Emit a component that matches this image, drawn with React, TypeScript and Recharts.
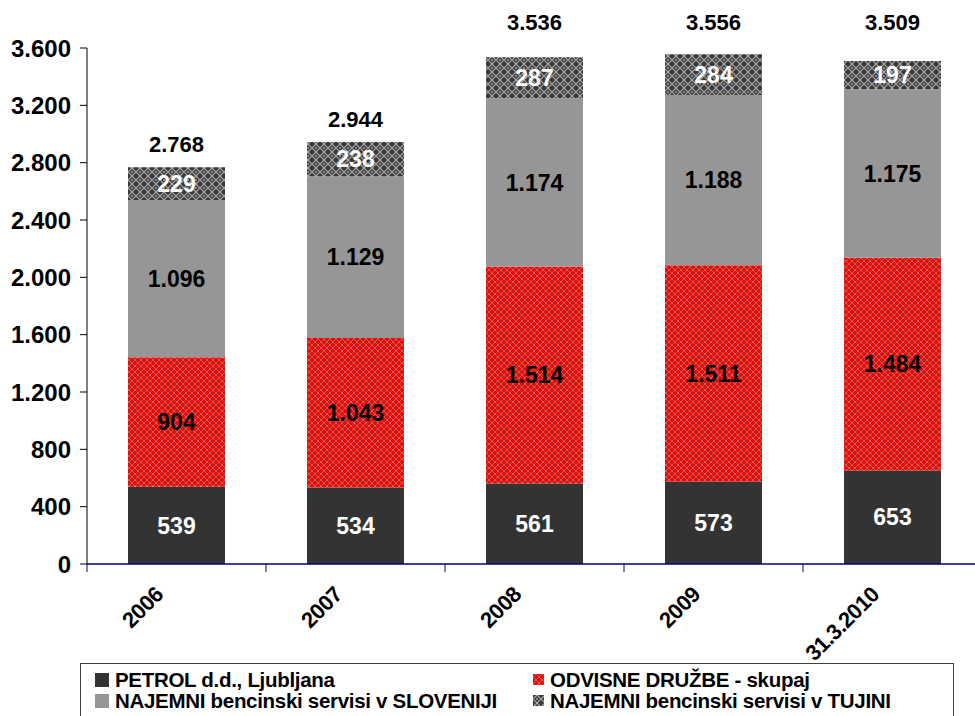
import React from "react";
import { Bar, BarChart, LabelList, XAxis, YAxis } from "recharts";

// ============================================
// Data
// ============================================

const CATEGORIES = ["2006", "2007", "2008", "2009", "31.3.2010"];
const PETROL = [539, 534, 561, 573, 653];
const ODVISNE = [904, 1043, 1514, 1511, 1484];
const NAJEMNI_SLO = [1096, 1129, 1174, 1188, 1175];
const NAJEMNI_TUJINA = [229, 238, 287, 284, 197];
const Y_TICKS = [0, 400, 800, 1200, 1600, 2000, 2400, 2800, 3200, 3600];

const LEGEND_LABELS = [
  "PETROL d.d., Ljubljana",
  "ODVISNE DRUŽBE - skupaj",
  "NAJEMNI bencinski servisi v SLOVENIJI",
  "NAJEMNI bencinski servisi v TUJINI",
];

const data = CATEGORIES.map((name, i) => ({
  name,
  petrol: PETROL[i],
  odvisne: ODVISNE[i],
  slo: NAJEMNI_SLO[i],
  tujina: NAJEMNI_TUJINA[i],
  total: PETROL[i] + ODVISNE[i] + NAJEMNI_SLO[i] + NAJEMNI_TUJINA[i],
}));

// ============================================
// Styles
// ============================================

const FONT = "Arial, 'Liberation Sans', sans-serif";
const DARK = "#333333";
const GRAY = "#969696";
const NAVY = "#000080";

function fmt(v: number | string): string {
  return String(v).replace(/\B(?=(\d{3})+(?!\d))/g, ".");
}

function PatternDefs({ prefix }: { prefix: string }) {
  return (
    <defs>
      <pattern id={`${prefix}-red`} width={6} height={6} patternUnits="userSpaceOnUse">
        <rect width={6} height={6} fill="#ff0000" />
        <path d="M0,3 L3,0 L6,3 L3,6 Z" fill="none" stroke="#a08080" strokeWidth={0.8} />
      </pattern>
      <pattern id={`${prefix}-check`} width={8} height={8} patternUnits="userSpaceOnUse">
        <rect width={8} height={8} fill="#383838" />
        <path d="M0,4 L4,0 L8,4 L4,8 Z" fill="none" stroke="#a8a8a8" strokeWidth={1.2} />
        <rect x={3} y={3} width={2} height={2} fill="#8c8c8c" />
      </pattern>
    </defs>
  );
}

// ============================================
// Custom tick: rotated label + tick marks on category boundaries
// ============================================

function RotatedTick({ x, y, payload, index, visibleTicksCount }: any) {
  const half = payload.offset ?? 0;
  const lx = x - 12;
  const ly = y + 32;
  const isLast = index === visibleTicksCount - 1;
  return (
    <g>
      <line x1={x - half} x2={x - half} y1={y} y2={y + 8} stroke={NAVY} />
      {isLast && <line x1={x + half} x2={x + half} y1={y} y2={y + 8} stroke={NAVY} />}
      <text
        x={lx}
        y={ly}
        transform={`rotate(-45 ${lx} ${ly})`}
        textAnchor="end"
        fontFamily={FONT}
        fontWeight="bold"
        fontSize={22}
        letterSpacing={-0.5}
        fill="#000"
      >
        {payload.value}
      </text>
    </g>
  );
}

// ============================================
// Total label above each stack
// ============================================

function TotalLabel(props: any) {
  const vb = props.viewBox ?? props;
  const cx = vb.x + vb.width / 2;
  const above = vb.y - 15;
  // labels that would crowd the top of the plot sit in the top margin row
  const ly = above < 70 ? 30 : above;
  return (
    <text
      x={cx}
      y={ly}
      textAnchor="middle"
      fontFamily={FONT}
      fontWeight="bold"
      fontSize={22}
      fill="#000"
    >
      {fmt(props.value)}
    </text>
  );
}

// ============================================
// Legend
// ============================================

function LegendMarker({ fill, size }: { fill: string; size: number }) {
  return (
    <svg width={size} height={size} style={{ display: "block", marginRight: 6, flex: "none" }}>
      <PatternDefs prefix="leg" />
      <rect width={size} height={size} fill={fill} />
    </svg>
  );
}

function ChartLegend() {
  const fills = [DARK, "url(#leg-red)", GRAY, "url(#leg-check)"];
  const lefts = [95, 533, 95, 533];
  const tops = [668, 668, 689, 689];
  const sizes = [14, 11, 14, 11];
  return (
    <div
      style={{
        position: "absolute",
        left: 80,
        top: 663,
        width: 874,
        height: 60,
        border: "1px solid #404040",
        boxSizing: "border-box",
        background: "#fff",
      }}
    >
      {LEGEND_LABELS.map((label, i) => (
        <div
          key={label}
          style={{
            position: "absolute",
            left: lefts[i] - 81,
            top: tops[i] - 664,
            display: "flex",
            alignItems: "center",
            height: 23,
            lineHeight: "23px",
            whiteSpace: "nowrap",
            fontFamily: FONT,
            fontWeight: "bold",
            fontSize: 20.5,
            letterSpacing: -0.3,
            color: "#000",
          }}
        >
          <LegendMarker fill={fills[i]} size={sizes[i]} />
          <span>{label}</span>
        </div>
      ))}
    </div>
  );
}

// ============================================
// Component
// ============================================

const segLabel = {
  fontFamily: FONT,
  fontWeight: "bold",
  fontSize: 23,
};

export default function App() {
  return (
    <div
      style={{
        position: "absolute",
        left: 0,
        top: 0,
        width: 975,
        height: 716,
        overflow: "hidden",
        background: "#fff",
      }}
    >
      <BarChart width={982} height={716} data={data} margin={{ top: 48, right: 0, left: 0, bottom: 0 }}>
        <PatternDefs prefix="bar" />
        <XAxis
          dataKey="name"
          height={152}
          axisLine={{ stroke: NAVY, strokeWidth: 1.5 }}
          tickLine={false}
          tickSize={0}
          tickMargin={0}
          interval={0}
          tick={<RotatedTick />}
        />
        <YAxis
          domain={[0, 3600]}
          ticks={Y_TICKS}
          width={87}
          tickSize={7}
          tickMargin={9}
          tickFormatter={fmt}
          axisLine={{ stroke: "#000" }}
          tickLine={{ stroke: "#000" }}
          tick={{ fill: "#000", fontFamily: FONT, fontWeight: "bold", fontSize: 24 }}
        />
        <Bar dataKey="petrol" stackId="a" fill={DARK} barSize={97} isAnimationActive={false}>
          <LabelList dataKey="petrol" position="center" formatter={fmt} fill="#fff" {...segLabel} />
        </Bar>
        <Bar dataKey="odvisne" stackId="a" fill="url(#bar-red)" barSize={97} isAnimationActive={false}>
          <LabelList dataKey="odvisne" position="center" formatter={fmt} fill="#000" {...segLabel} />
        </Bar>
        <Bar dataKey="slo" stackId="a" fill={GRAY} barSize={97} isAnimationActive={false}>
          <LabelList dataKey="slo" position="center" formatter={fmt} fill="#000" {...segLabel} />
        </Bar>
        <Bar dataKey="tujina" stackId="a" fill="url(#bar-check)" barSize={97} isAnimationActive={false}>
          <LabelList dataKey="tujina" position="center" formatter={fmt} fill="#fff" {...segLabel} />
          <LabelList dataKey="total" position="top" content={<TotalLabel />} />
        </Bar>
      </BarChart>
      <ChartLegend />
    </div>
  );
}
